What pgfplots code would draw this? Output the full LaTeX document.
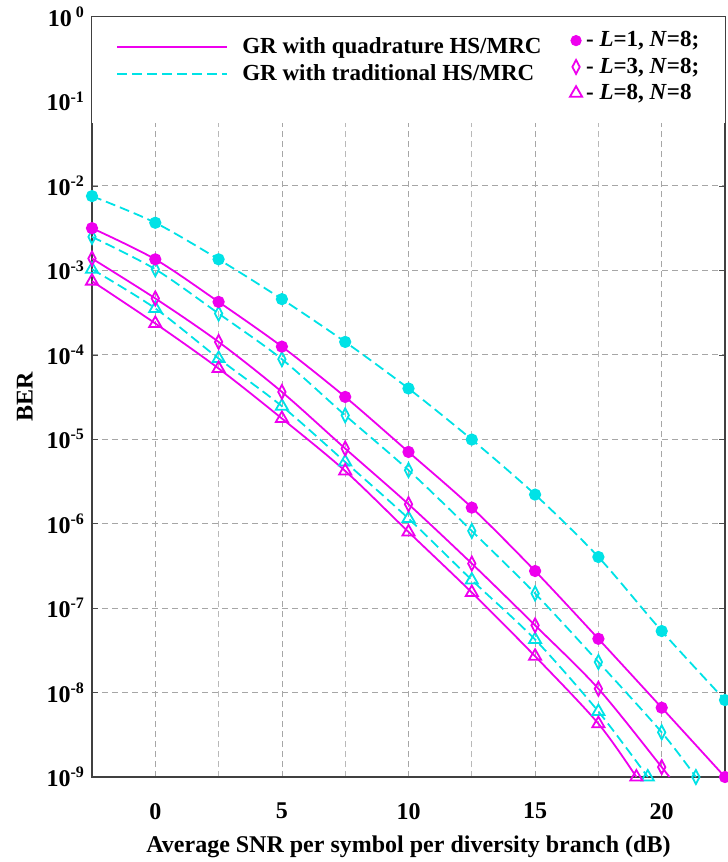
\documentclass[border=0pt]{standalone}
\usepackage{pgfplots}
\pgfplotsset{compat=1.18}
\usepackage{fontspec}
\setmainfont{Liberation Serif}
\definecolor{mag}{RGB}{238,0,238}
\definecolor{cya}{RGB}{0,226,230}
\pgfplotstableread{
x y
-2.5 3.16e-3
0 1.35e-3
2.5 4.23e-4
5 1.25e-4
7.5 3.17e-5
10 7.07e-6
12.5 1.55e-6
15 2.75e-7
17.5 4.33e-8
20 6.62e-9
22.5 1.0e-9
}\qone
\pgfplotstableread{
x y
-2.5 7.57e-3
0 3.66e-3
2.5 1.35e-3
5 4.56e-4
7.5 1.42e-4
10 3.99e-5
12.5 9.91e-6
15 2.21e-6
17.5 4.03e-7
20 5.35e-8
22.5 8.15e-9
}\tone
\pgfplotstableread{
x y
-2.5 1.38e-3
0 4.65e-4
2.5 1.42e-4
5 3.63e-5
7.5 7.76e-6
10 1.70e-6
12.5 3.37e-7
15 6.25e-8
17.5 1.11e-8
20 1.31e-9
20.3 1.0e-9
}\qthree
\pgfplotstableread{
x y
-2.5 2.49e-3
0 1.03e-3
2.5 3.08e-4
5 8.87e-5
7.5 1.92e-5
10 4.30e-6
12.5 8.20e-7
15 1.49e-7
17.5 2.30e-8
20 3.38e-9
21.35 1.0e-9
}\tthree
\pgfplotstableread{
x y
-2.5 1.03e-3
0 3.54e-4
2.5 9.04e-5
5 2.46e-5
7.5 5.38e-6
10 1.15e-6
12.5 2.15e-7
15 4.24e-8
17.5 5.96e-9
19.45 1.0e-9
}\teight
\pgfplotstableread{
x y
-2.5 7.45e-4
0 2.35e-4
2.5 6.89e-5
5 1.76e-5
7.5 4.21e-6
10 7.98e-7
12.5 1.53e-7
15 2.69e-8
17.5 4.28e-9
19.0 1.0e-9
}\qeight
\begin{document}
\begin{tikzpicture}
\path[use as bounding box] (-46pt,-42.5pt) rectangle (318pt,388.5pt);
\begin{axis}[
  scale only axis, width=316.5pt, height=380pt,
  at={(0,0)}, anchor=south west,
  xmin=-2.5, xmax=22.5, ymode=log, ymin=1e-9, ymax=1,
  xtick={0,5,10,15,20}, xticklabels={0,5,10,15,20},
  minor xtick={-2.5,2.5,7.5,12.5,17.5,22.5},
  ytick={1,1e-1,1e-2,1e-3,1e-4,1e-5,1e-6,1e-7,1e-8,1e-9},
  yticklabels={10\,\textsuperscript{0},10\textsuperscript{-1},10\textsuperscript{-2},10\textsuperscript{-3},10\textsuperscript{-4},10\textsuperscript{-5},10\textsuperscript{-6},10\textsuperscript{-7},10\textsuperscript{-8},10\textsuperscript{-9}},
  grid=both,
  major grid style={gray!70, dash pattern=on 3pt off 2pt, line width=0.4pt},
  minor grid style={gray!55, dash pattern=on 3pt off 2pt, line width=0.4pt},
  xtick style={draw=none},
  minor tick length=0pt, major tick length=3pt,
  ytick style={black!70},
  axis line style={black!75, line width=0.9pt},
  clip=false,
  tick label style={font=\bfseries\fontsize{12}{14}\selectfont},
  xticklabel style={yshift=-9.5pt},
  label style={font=\bfseries\fontsize{12}{14}\selectfont},
  xlabel={Average SNR per symbol per diversity branch (dB)},
  ylabel={BER},
  xlabel style={at={(axis description cs:0.5,-0.0915)}, anchor=center},
  ylabel style={at={(axis description cs:-0.106,0.5)}, anchor=center},
  legend style={at={(0.028,0.984)}, anchor=north west, draw=none, fill=none,
    font=\bfseries\fontsize{11.5}{13}\selectfont, row sep=0pt},
  legend cell align=left,
  legend image code/.code={\draw[#1, line width=1.1pt] (0pt,0pt) -- (55pt,0pt);},
]
\fill[white] (rel axis cs:0,1) rectangle (axis cs:22.5,5.5e-2);
\addlegendimage{draw=mag, solid}
\addlegendentry{\hspace{5pt}GR with quadrature HS/MRC}
\addlegendimage{draw=cya, dash pattern=on 5pt off 2.5pt}
\addlegendentry{\hspace{5pt}GR with traditional HS/MRC}
\addplot[forget plot, cya, line width=0.9pt, dash pattern=on 5pt off 2.5pt, smooth, mark=*, mark size=2.6pt, mark options={solid, fill=cya}] table {\tone};
\addplot[forget plot, cya, line width=0.9pt, dash pattern=on 5pt off 2.5pt, smooth, mark=diamond, mark size=3.5pt, mark options={solid, xscale=0.7}] table {\tthree};
\addplot[forget plot, cya, line width=0.9pt, dash pattern=on 5pt off 2.5pt, smooth, mark=triangle, mark size=3.5pt, mark options={solid}] table {\teight};
\addplot[forget plot, mag, line width=0.9pt, smooth, mark=*, mark size=2.6pt, mark options={fill=mag}] table {\qone};
\addplot[forget plot, mag, line width=0.9pt, smooth, mark=diamond, mark size=3.5pt, mark options={xscale=0.7}, mark indices={1,2,3,4,5,6,7,8,9,10}] table {\qthree};
\addplot[forget plot, mag, line width=0.9pt, smooth, mark=triangle, mark size=3.5pt] table {\qeight};
\end{axis}
\begin{axis}[
  scale only axis, width=316.5pt, height=380pt,
  at={(0,0)}, anchor=south west, hide axis,
  xmin=0, xmax=1, ymin=0, ymax=1,
  legend style={at={(0.745,0.992)}, anchor=north west, draw=none, fill=none,
    font=\bfseries\fontsize{11.5}{13}\selectfont, row sep=0pt},
  legend cell align=left,
  legend image code/.code={\draw[#1] plot coordinates {(4pt,0pt)};},
]
\addlegendimage{only marks, mag, mark=*, mark size=2.6pt, mark options={fill=mag}}
\addlegendentry{- \textit{L}=1, \textit{N}=8;}
\addlegendimage{only marks, mag, line width=0.9pt, mark=diamond, mark size=3.5pt, mark options={xscale=0.7}}
\addlegendentry{- \textit{L}=3, \textit{N}=8;}
\addlegendimage{only marks, mag, line width=0.9pt, mark=triangle, mark size=3.5pt}
\addlegendentry{- \textit{L}=8, \textit{N}=8}
\end{axis}
\end{tikzpicture}
\end{document}
